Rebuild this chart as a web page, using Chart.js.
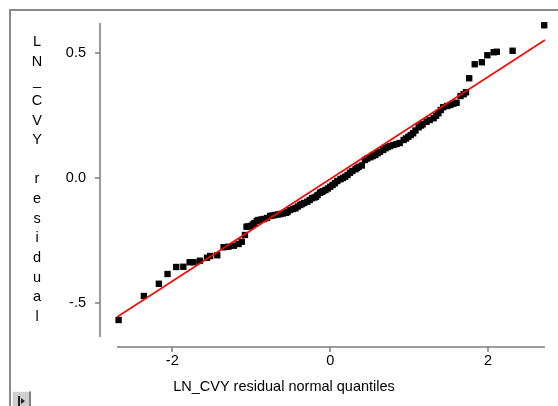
<!DOCTYPE html>
<html>
<head>
<meta charset="UTF-8">
<title>LN_CVY residual</title>
<script src="https://cdn.jsdelivr.net/npm/chart.js@4.4.1/dist/chart.umd.min.js"></script>
<style>
  body { margin: 0; background: #fff; }
  #wrap { position: relative; width: 558px; height: 406px; }
  #btn {
    position: absolute; left: 12px; top: 391px; width: 16px; height: 15px;
    background: #cfcfcf; border-top: 1px solid #f4f4f4; border-left: 1px solid #f4f4f4;
    border-right: 2px solid #808080;
  }
  #btn .bar { position: absolute; left: 5px; top: 4px; width: 2px; height: 10px; background: #202020; }
  #btn .tri {
    position: absolute; left: 8px; top: 6px; width: 0; height: 0;
    border-top: 3px solid transparent; border-bottom: 3px solid transparent; border-left: 4px solid #202020;
  }
</style>
</head>
<body>
<div id="wrap">
  <canvas id="qq" width="558" height="406"></canvas>
  <div id="btn"><span class="bar"></span><span class="tri"></span></div>
</div>
<script>
// normal quantiles and sorted residuals
var quantiles = [
  -2.68, -2.36, -2.17, -2.06, -1.95, -1.86, -1.78, -1.73, -1.65, -1.56,
  -1.52, -1.43, -1.35, -1.29, -1.22, -1.16, -1.12, -1.08, -1.06, -1.04,
  -1.01, -0.98, -0.96, -0.93, -0.91, -0.87, -0.84, -0.80, -0.76, -0.73,
  -0.70, -0.66, -0.63, -0.60, -0.56, -0.54, -0.51, -0.47, -0.44, -0.41,
  -0.38, -0.36, -0.33, -0.29, -0.26, -0.23, -0.20, -0.18, -0.16, -0.13,
  -0.11, -0.09, -0.06, -0.03, 0.00, 0.03, 0.06, 0.09, 0.13, 0.16,
  0.19, 0.22, 0.25, 0.28, 0.32, 0.34, 0.36, 0.40, 0.44, 0.47,
  0.51, 0.54, 0.57, 0.60, 0.63, 0.67, 0.70, 0.73, 0.76, 0.80,
  0.84, 0.88, 0.93, 0.96, 0.99, 1.02, 1.05, 1.08, 1.12, 1.15,
  1.17, 1.22, 1.26, 1.31, 1.34, 1.37, 1.40, 1.43, 1.48, 1.52,
  1.56, 1.60, 1.65, 1.69, 1.72, 1.76, 1.83, 1.92, 1.99, 2.07,
  2.11, 2.31, 2.71
];
var residuals = [
  -0.568, -0.472, -0.423, -0.384, -0.356, -0.355, -0.337, -0.337, -0.331, -0.319,
  -0.312, -0.309, -0.277, -0.275, -0.271, -0.264, -0.255, -0.228, -0.195, -0.194,
  -0.192, -0.186, -0.180, -0.172, -0.168, -0.166, -0.164, -0.160, -0.152, -0.150,
  -0.148, -0.146, -0.144, -0.142, -0.139, -0.136, -0.128, -0.124, -0.121, -0.114,
  -0.108, -0.104, -0.100, -0.095, -0.088, -0.081, -0.078, -0.075, -0.068, -0.059,
  -0.056, -0.053, -0.048, -0.042, -0.035, -0.028, -0.021, -0.012, -0.005, 0.000,
  0.005, 0.012, 0.021, 0.028, 0.035, 0.040, 0.045, 0.050, 0.072, 0.078,
  0.083, 0.088, 0.092, 0.099, 0.105, 0.112, 0.119, 0.124, 0.128, 0.132,
  0.136, 0.140, 0.152, 0.158, 0.165, 0.172, 0.179, 0.190, 0.203, 0.210,
  0.215, 0.225, 0.232, 0.239, 0.249, 0.259, 0.272, 0.283, 0.288, 0.292,
  0.297, 0.301, 0.328, 0.335, 0.343, 0.399, 0.455, 0.463, 0.491, 0.503,
  0.505, 0.509, 0.611
];
// reference line
var fitX = [-2.70, 2.72];
var fitY = [-0.556, 0.552];

var xTicks = [-2, 0, 2];
var xTickLabels = ['-2', '0', '2'];
var yTicks = [-0.5, 0, 0.5];
var yTickLabels = ['-.5', '0.0', '0.5'];
var xTitle = 'LN_CVY residual normal quantiles';
var yTitle = 'LN_CVY residual';

var FONT = '"Liberation Sans", Arial, sans-serif';
Chart.defaults.font.family = FONT;
Chart.defaults.font.size = 14.5;
Chart.defaults.color = '#000';

var points = quantiles.map(function(q, i) { return { x: q, y: residuals[i] }; });
var fitLine = fitX.map(function(v, i) { return { x: v, y: fitY[i] }; });

// axes sit away from the plot area, drawn by hand from the scales
var sideAxes = {
  id: 'sideAxes',
  afterDraw: function(chart) {
    var ctx = chart.ctx, a = chart.chartArea;
    var xs = chart.scales.x, ys = chart.scales.y;
    ctx.save();

    // outer frame
    ctx.strokeStyle = '#8a8a8a';
    ctx.lineWidth = 2;
    ctx.beginPath();
    ctx.moveTo(10, chart.height);
    ctx.lineTo(10, 10);
    ctx.lineTo(chart.width, 10);
    ctx.stroke();

    ctx.strokeStyle = '#7c7c7c';
    ctx.lineWidth = 1.5;
    // y axis
    var ax = a.left - 17;
    ctx.beginPath();
    ctx.moveTo(ax, a.top);
    ctx.lineTo(ax, a.bottom);
    yTicks.forEach(function(v) {
      var py = Math.round(ys.getPixelForValue(v));
      ctx.moveTo(ax - 5, py);
      ctx.lineTo(ax, py);
    });
    ctx.stroke();
    // x axis
    var ay = a.bottom + 10;
    ctx.beginPath();
    ctx.moveTo(a.left, ay);
    ctx.lineTo(a.right, ay);
    xTicks.forEach(function(v) {
      var px = Math.round(xs.getPixelForValue(v));
      ctx.moveTo(px, ay);
      ctx.lineTo(px, ay + 5);
    });
    ctx.stroke();

    // titles
    ctx.fillStyle = '#000';
    ctx.font = '14.5px ' + FONT;
    ctx.textAlign = 'center';
    ctx.textBaseline = 'middle';
    ctx.fillText(xTitle, 284, 387);
    var letters = yTitle.split('');
    letters.forEach(function(ch, i) {
      ctx.fillText(ch, 37, 42 + i * 19.64);
    });
    ctx.restore();
  }
};

new Chart(document.getElementById('qq'), {
  type: 'scatter',
  data: {
    datasets: [
      {
        data: fitLine,
        showLine: true,
        borderColor: '#ff0000',
        borderWidth: 1.5,
        pointRadius: 0,
        fill: false
      },
      {
        data: points,
        pointStyle: 'rect',
        pointRadius: 4.5,
        pointBorderWidth: 0,
        backgroundColor: '#000',
        borderColor: '#000',
        clip: false
      }
    ]
  },
  options: {
    responsive: false,
    animation: false,
    devicePixelRatio: 1,
    layout: { padding: { left: 10, right: 13, top: 23, bottom: 0 } },
    plugins: { legend: { display: false }, tooltip: { enabled: false } },
    scales: {
      x: {
        type: 'linear',
        min: -2.70,
        max: 2.72,
        grid: { display: false, drawTicks: false },
        border: { display: false },
        afterFit: function(s) { s.height = 69; s.paddingLeft = 0; s.paddingRight = 0; },
        afterBuildTicks: function(s) { s.ticks = xTicks.map(function(v) { return { value: v }; }); },
        ticks: {
          padding: 15,
          autoSkip: false,
          maxRotation: 0,
          callback: function(v) { return xTickLabels[xTicks.indexOf(v)]; }
        }
      },
      y: {
        type: 'linear',
        min: -0.636,
        max: 0.62,
        grid: { display: false, drawTicks: false },
        border: { display: false },
        afterFit: function(s) { s.width = 107; s.paddingTop = 0; s.paddingBottom = 0; },
        afterBuildTicks: function(s) { s.ticks = yTicks.map(function(v) { return { value: v }; }); },
        ticks: {
          padding: 31,
          autoSkip: false,
          callback: function(v) { return yTickLabels[yTicks.indexOf(v)]; }
        }
      }
    }
  },
  plugins: [sideAxes]
});
</script>
</body>
</html>
